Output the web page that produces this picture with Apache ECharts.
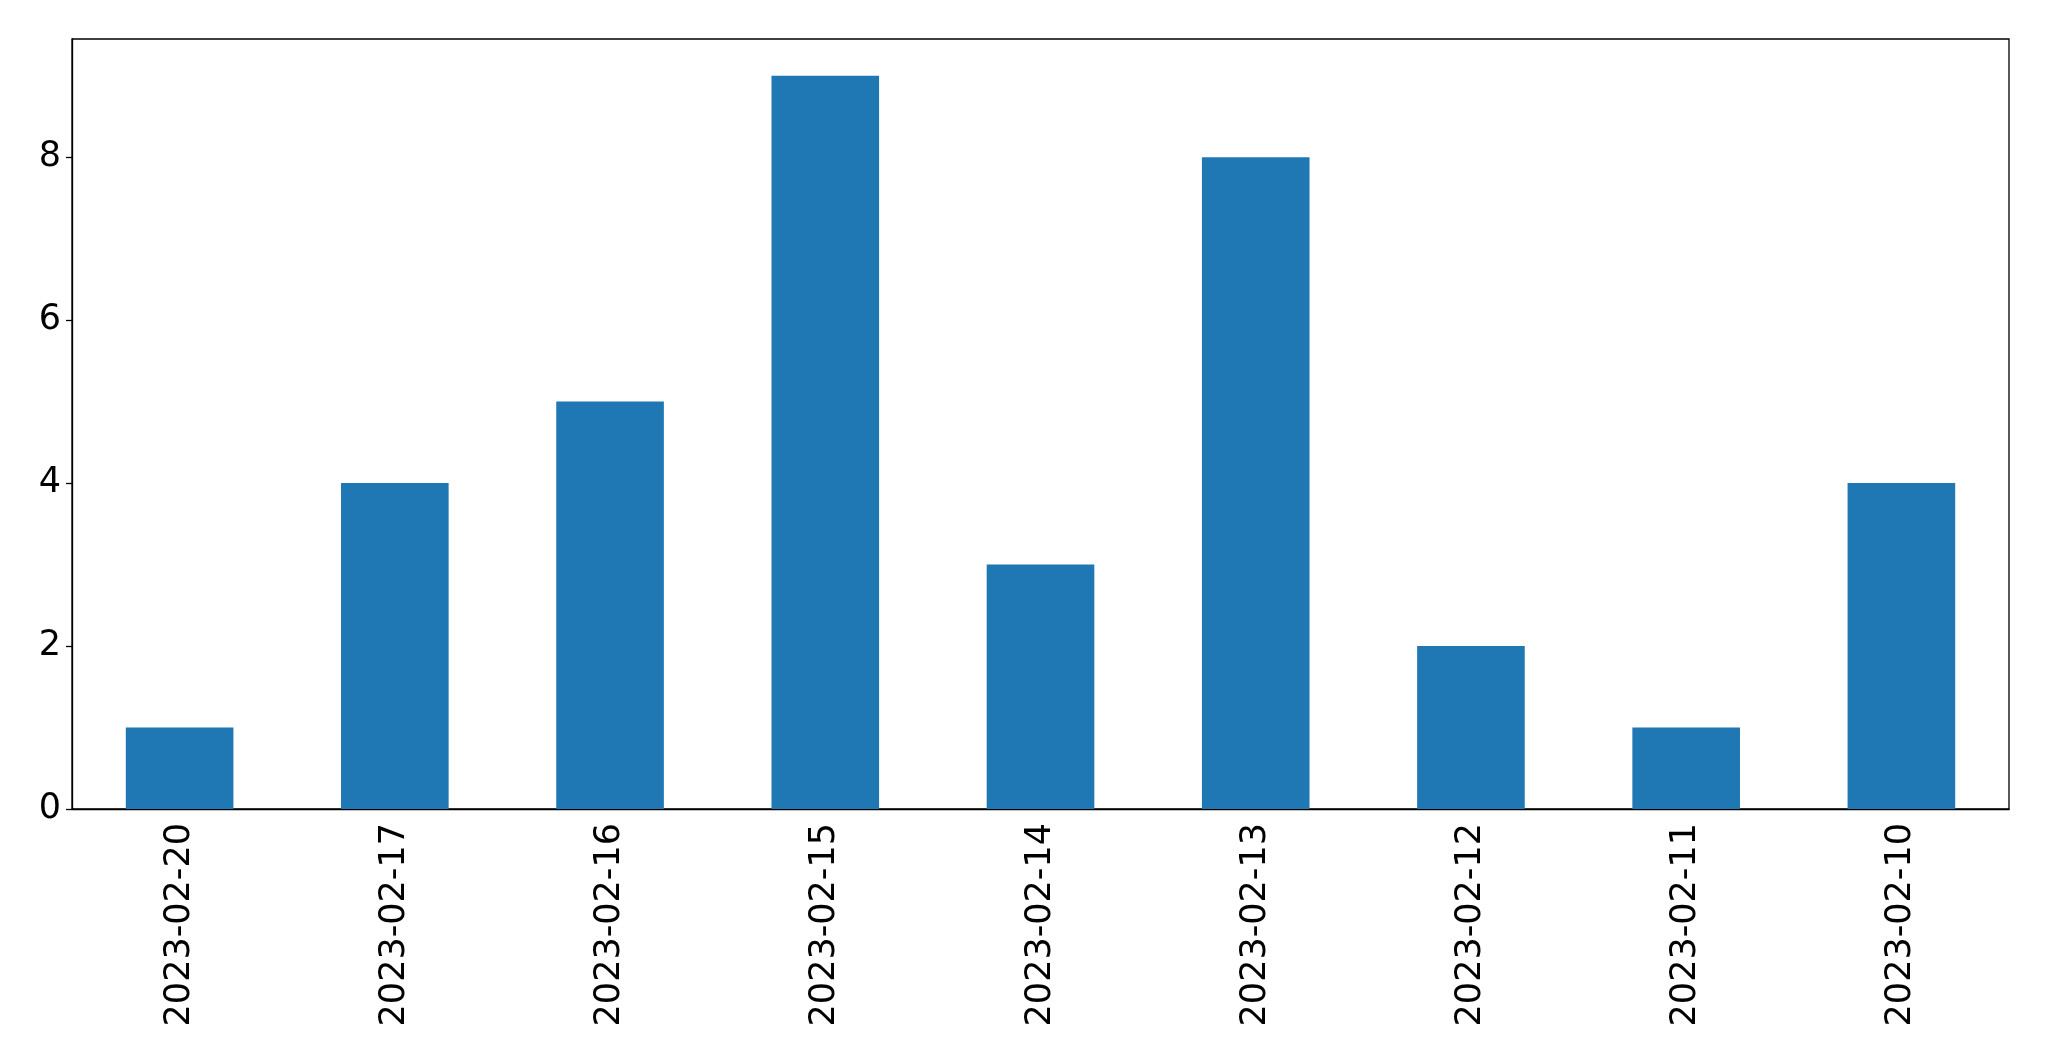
<!DOCTYPE html>
<html>
<head>
<meta charset="utf-8">
<script src="https://cdn.jsdelivr.net/npm/echarts@6/dist/echarts.min.js"></script>
<style>
html,body{margin:0;padding:0;background:#fff;}
#chart{width:2049px;height:1061px;}
</style>
</head>
<body>
<div id="chart"></div>
<script>
const categories = ['2023-02-20','2023-02-17','2023-02-16','2023-02-15','2023-02-14','2023-02-13','2023-02-12','2023-02-11','2023-02-10'];
const values = [1, 4, 5, 9, 3, 8, 2, 1, 4];
const yTicks = [0, 2, 4, 6, 8];

const chart = echarts.init(document.getElementById('chart'), null, {renderer: 'canvas'});
chart.setOption({
  animation: false,
  backgroundColor: '#fff',
  grid: {left: 72, right: 40, top: 39, bottom: 252, show: true, borderColor: '#000', borderWidth: 1.3, containLabel: false},
  xAxis: {
    type: 'category',
    data: categories,
    boundaryGap: true,
    axisLine: {lineStyle: {color: '#000', width: 1.3}},
    axisTick: {alignWithLabel: true, length: 6, lineStyle: {color: '#000', width: 1.3}},
    axisLabel: {rotate: 90, color: '#000', fontFamily: 'DejaVu Sans', fontSize: 35, margin: 14, interval: 0}
  },
  yAxis: {
    type: 'value',
    min: 0,
    max: 9.45,
    splitLine: {show: false},
    axisLine: {show: true, lineStyle: {color: '#000', width: 1.3}},
    axisTick: {show: true, length: 6, customValues: yTicks, lineStyle: {color: '#000', width: 1.3}},
    axisLabel: {color: '#000', fontFamily: 'DejaVu Sans', fontSize: 35, margin: 11, customValues: yTicks}
  },
  series: [{
    type: 'bar',
    data: values,
    barWidth: '50%',
    itemStyle: {color: '#1f77b4'}
  }]
});
</script>
</body>
</html>
